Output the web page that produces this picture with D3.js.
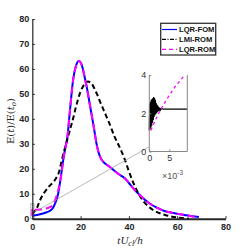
<!DOCTYPE html>
<html>
<head>
<meta charset="utf-8">
<script src="https://cdn.jsdelivr.net/npm/d3@7"></script>
<style>
  body { margin: 0; background: #fff; }
  svg text { font-family: "Liberation Sans", Arial, sans-serif; }
</style>
</head>
<body>
<div id="chart"></div>
<script>
// main curves
var tFom = [0, 2, 4, 6, 7.5, 8.5, 9.4, 10, 10.7, 11.4, 12, 12.8, 13.6, 14.5, 15.6, 16.9, 18, 19.3, 20.5, 21.8, 22.5, 23.5, 24.5, 25.5, 26.6, 27.3, 28, 29, 30, 32, 34, 36, 38.3, 40, 42, 45, 48, 52, 55, 59, 63, 66, 69];
var eFom = [1.2, 1.5, 2, 2.6, 3.3, 4.2, 6, 7.5, 10, 14, 18, 23.5, 28, 32.5, 43.5, 55.6, 61, 63.2, 61.5, 56.2, 53, 47.5, 42, 36.5, 30, 27, 25, 23.2, 22.2, 20.8, 19.2, 17.7, 16.2, 14.3, 12, 9, 6.5, 4.2, 3, 2.2, 1.5, 1, 0.7];

var tLmi = [0, 1, 2, 3, 5, 7, 9, 10, 11, 12, 13, 14, 15, 16, 17, 18, 19, 20, 21, 22, 23, 24, 25, 26, 27, 28, 30, 32, 34, 36, 38, 40, 42, 44, 46, 48, 50, 55, 60, 65];
var eLmi = [1.8, 3, 4.5, 7, 10.5, 13, 15, 16.5, 18.5, 22.5, 26.5, 30, 33.5, 37, 40.5, 44.5, 48, 51, 53, 54.3, 55, 54.6, 53.5, 51.5, 49.5, 47, 42.5, 38, 33, 29, 24.5, 19, 14, 10, 7, 5, 3.5, 1.5, 0.5, 0];

var tRom = [0, 0.02, 0.5, 2, 4, 6, 8, 9, 10, 11, 12, 12.8, 13.6, 14.5, 15.6, 16.9, 18, 19.3, 20.5, 21.8, 22.5, 23.5, 24.5, 25.5, 26.6, 27.3, 28, 29, 30, 32, 34, 36, 38.3, 40, 42, 45, 48, 52, 55, 59, 63, 66, 69];
var eRom = [1.1, 4.3, 4, 3.6, 3.8, 4.2, 5, 6.5, 9, 12.5, 17.5, 23.5, 28, 32.5, 43.5, 55.6, 61, 63.2, 61.5, 56.2, 53, 47.5, 42, 36.5, 30, 27, 25, 23.2, 22.2, 20.8, 19.2, 17.7, 16.2, 14.3, 12, 9, 6.5, 4.2, 3, 2.2, 1.5, 1, 0.7];

// inset curves (t in tU/h, very early)
var tInsetLmi = [0, 0.0001, 0.0002, 0.0003, 0.0004, 0.0005, 0.0006, 0.0007, 0.0008, 0.0009, 0.001, 0.0011, 0.0012, 0.0013, 0.0014, 0.0015, 0.0016, 0.0017, 0.0018, 0.0019, 0.002, 0.0021, 0.0022, 0.0023, 0.0024, 0.0025, 0.0026, 0.0027, 0.0028, 0.003, 0.0035, 0.004, 0.0095];
var eInsetLmi = [1.1, 2.5, 1.15, 2.6, 1.25, 2.7, 1.35, 2.75, 1.5, 2.8, 1.65, 2.85, 1.8, 2.8, 1.9, 2.7, 1.95, 2.55, 2.0, 2.45, 2.05, 2.4, 2.1, 2.33, 2.12, 2.3, 2.15, 2.27, 2.18, 2.24, 2.22, 2.22, 2.22];

var tInsetRom = [0.0004, 0.002, 0.004, 0.006, 0.0085];
var eInsetRom = [1.1, 1.85, 2.6, 3.25, 3.9];

var xTicks = [0, 20, 40, 60, 80];
var yTicks = [0, 10, 20, 30, 40, 50, 60, 70, 80];
var insetXTicks = [0, 0.005];
var insetXTickLabels = ["0", "5"];
var insetYTicks = [0, 2, 4];

var legendLabels = ["LQR-FOM", "LMI-ROM", "LQR-ROM"];
var legendColors = ["#0000ff", "#000000", "#ff00ff"];
var legendDash = [null, "4,1.5,1,1.5", "4,3"];

var W = 249, H = 249;

var svg = d3.select("#chart").append("svg")
    .attr("width", W)
    .attr("height", H);

var x = d3.scaleLinear().domain([0, 80]).range([32.3, 225.5]);
var y = d3.scaleLinear().domain([0, 80]).range([218.7, 19]);

var zip = function(ts, es) { return ts.map(function(t, i) { return [t, es[i]]; }); };

var line = d3.line()
    .x(function(d) { return x(d[0]); })
    .y(function(d) { return y(d[1]); })
    .curve(d3.curveMonotoneX);

// zoom rectangle (drawn under curves)
svg.append("rect")
    .attr("x", x(-0.6)).attr("y", y(6))
    .attr("width", x(0.7) - x(-0.6)).attr("height", y(0) - y(6))
    .attr("fill", "none").attr("stroke", "#999").attr("stroke-width", 0.8);

// curves
svg.append("path").datum(zip(tFom, eFom))
    .attr("d", line).attr("fill", "none")
    .attr("stroke", "#0000ff").attr("stroke-width", 2);

svg.append("path").datum(zip(tLmi, eLmi))
    .attr("d", line).attr("fill", "none")
    .attr("stroke", "#000").attr("stroke-width", 2)
    .attr("stroke-dasharray", "5,3");

svg.append("path").datum(zip(tRom, eRom))
    .attr("d", line).attr("fill", "none")
    .attr("stroke", "#ff00ff").attr("stroke-width", 2)
    .attr("stroke-dasharray", "7,4");

// axes (matlab style: ticks inside, box off)
var xAxis = d3.axisBottom(x).tickValues(xTicks).tickSizeInner(-2.5).tickSizeOuter(0).tickPadding(5);
var yAxis = d3.axisLeft(y).tickValues(yTicks).tickSizeInner(-2.5).tickSizeOuter(0).tickPadding(4);

var gx = svg.append("g").attr("transform", "translate(0," + y(0) + ")").call(xAxis);
var gy = svg.append("g").attr("transform", "translate(" + x(0) + ",0)").call(yAxis);

[gx, gy].forEach(function(g) {
    g.select(".domain").attr("stroke", "#262626");
    g.selectAll(".tick line").attr("stroke", "#262626");
    g.selectAll(".tick text")
        .attr("fill", "#262626")
        .style("font-size", "9px")
        .style("font-weight", "bold")
        .style("font-family", "Liberation Sans, Arial, sans-serif");
});
gx.select(".domain").attr("stroke-width", 2);
gy.select(".domain").attr("stroke-width", 1.2);
gy.selectAll(".tick text").attr("x", -3);

// axis labels
svg.append("text")
    .attr("transform", "translate(14,121) rotate(-90)")
    .attr("text-anchor", "middle")
    .style("font-family", "DejaVu Serif, Liberation Serif, serif")
    .style("font-size", "10px")
    .attr("fill", "#262626")
    .html('E(<tspan font-style="italic">t</tspan>)/E(<tspan font-style="italic">t</tspan><tspan font-style="italic" font-size="7px" dy="2">o</tspan><tspan dy="-2">)</tspan>');

svg.append("text")
    .attr("x", 130).attr("y", 244)
    .attr("text-anchor", "middle")
    .style("font-family", "Liberation Serif, DejaVu Serif, serif")
    .style("font-size", "11px")
    .style("font-style", "italic")
    .attr("fill", "#262626")
    .html('tU<tspan font-size="8px" dy="2">cl</tspan><tspan dy="-2">/h</tspan>');

// legend
var leg = svg.append("g");
leg.append("rect")
    .attr("x", 160.7).attr("y", 23.3)
    .attr("width", 55).attr("height", 31.7)
    .attr("fill", "#fff").attr("stroke", "#333").attr("stroke-width", 1.3);

legendLabels.forEach(function(lab, i) {
    var ly = 29.5 + i * 9.9;
    leg.append("line")
        .attr("x1", 162).attr("x2", 177)
        .attr("y1", ly).attr("y2", ly)
        .attr("stroke", legendColors[i]).attr("stroke-width", 1.2)
        .attr("stroke-dasharray", legendDash[i]);
    leg.append("text")
        .attr("x", 179).attr("y", ly + 2.8)
        .style("font-size", "7.6px")
        .style("font-weight", "bold")
        .attr("fill", "#111")
        .text(lab);
});

// inset
var ix = d3.scaleLinear().domain([0, 0.0095]).range([149.3, 187.3]);
var iy = d3.scaleLinear().domain([0, 4]).range([151.5, 75]);

// connector from zoom box to inset
svg.append("line")
    .attr("x1", x(0.7)).attr("y1", y(2.5))
    .attr("x2", ix(0)).attr("y2", iy(0.25))
    .attr("stroke", "#999").attr("stroke-width", 0.7);

var inset = svg.append("g");
inset.append("rect")
    .attr("x", ix(0)).attr("y", iy(4))
    .attr("width", ix(0.0095) - ix(0)).attr("height", iy(0) - iy(4))
    .attr("fill", "#fff");

var iline = d3.line()
    .x(function(d) { return ix(d[0]); })
    .y(function(d) { return iy(d[1]); });

inset.append("path").datum(zip(tInsetLmi, eInsetLmi))
    .attr("d", iline).attr("fill", "none")
    .attr("stroke", "#000").attr("stroke-width", 1.3);

inset.append("path").datum(zip(tInsetRom, eInsetRom))
    .attr("d", iline.curve(d3.curveMonotoneX)).attr("fill", "none")
    .attr("stroke", "#ff00ff").attr("stroke-width", 1.3)
    .attr("stroke-dasharray", "3,3");

// inset frame: left, bottom, right
inset.append("path")
    .attr("d", "M" + ix(0) + "," + iy(4) + "V" + iy(0) + "H" + ix(0.0095) + "V" + iy(4))
    .attr("fill", "none").attr("stroke", "#888").attr("stroke-width", 1);

var ixAxis = d3.axisBottom(ix).tickValues(insetXTicks)
    .tickFormat(function(d, i) { return insetXTickLabels[i]; })
    .tickSizeInner(-2).tickSizeOuter(0).tickPadding(3);
var iyAxis = d3.axisLeft(iy).tickValues(insetYTicks)
    .tickFormat(d3.format("d"))
    .tickSizeInner(-2).tickSizeOuter(0).tickPadding(3);

var gix = inset.append("g").attr("transform", "translate(0," + iy(0) + ")").call(ixAxis);
var giy = inset.append("g").attr("transform", "translate(" + ix(0) + ",0)").call(iyAxis);
[gix, giy].forEach(function(g) {
    g.select(".domain").remove();
    g.selectAll(".tick line").attr("stroke", "#888");
    g.selectAll(".tick text")
        .attr("fill", "#333")
        .style("font-size", "9px")
        .style("font-family", "Liberation Sans, Arial, sans-serif");
});

inset.append("text")
    .attr("x", 162).attr("y", 179)
    .style("font-size", "9px")
    .attr("fill", "#555")
    .html('\u00d710<tspan font-size="6.5px" dy="-4">-3</tspan>');
</script>
</body>
</html>
